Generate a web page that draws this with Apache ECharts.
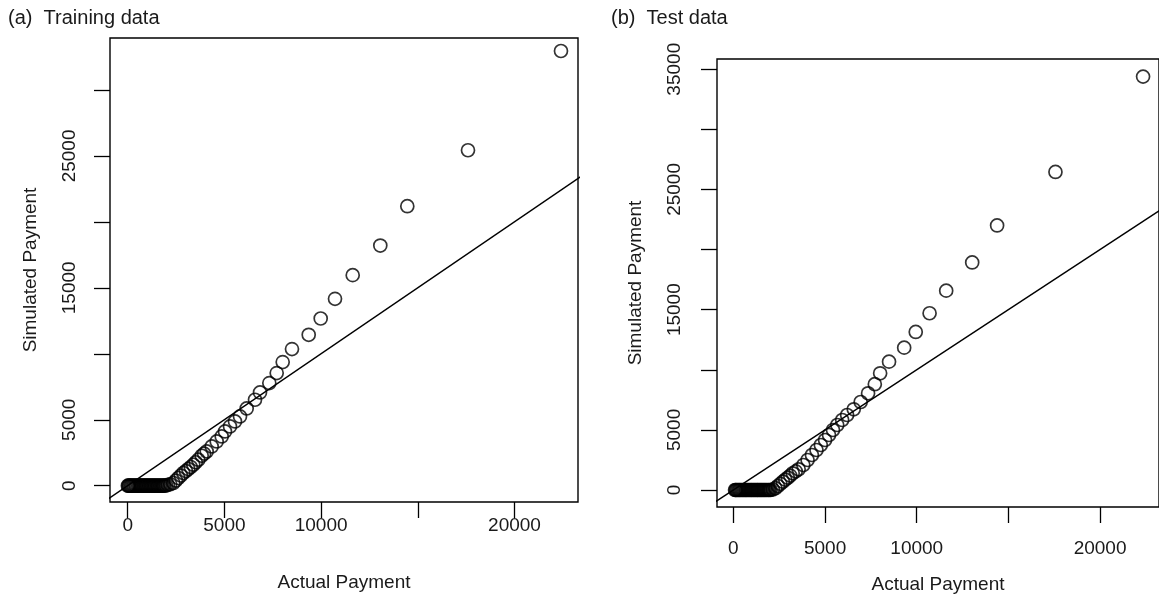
<!DOCTYPE html>
<html>
<head>
<meta charset="utf-8">
<script src="https://cdn.jsdelivr.net/npm/echarts@6/dist/echarts.min.js"></script>
<style>
html,body{margin:0;padding:0;background:#fff;}
#chart{width:1159px;height:601px;}
</style>
</head>
<body>
<div id="chart"></div>
<script>
// ---- Data ----
const panelTitles = ['(a)  Training data', '(b)  Test data'];
const xAxisTitle = 'Actual Payment';
const yAxisTitle = 'Simulated Payment';

// Panel (a): quantiles of actual vs simulated payment (training data)
const trainActual = [10, 45, 90, 150, 205, 270, 330, 395, 450, 520, 580, 640, 705, 760, 830, 890, 950, 1010, 1080, 1140, 1200, 1265, 1330, 1390, 1450, 1520, 1580, 1650, 1710, 1780, 1840, 1900,
  1980, 2080, 2200, 2358, 2490, 2616, 2750, 2875, 3010, 3133, 3260, 3392, 3520, 3651, 3826, 3950, 4085, 4344, 4602, 4861, 5031, 5290, 5548, 5807,
  6153, 6582, 6841, 7322, 7704, 8014, 8495, 9359, 9979, 10719, 11634, 13061, 14457, 17595, 22403];
const trainSimulated = [0, 0, 0, 0, 0, 0, 0, 0, 0, 0, 0, 0, 0, 0, 0, 0, 0, 0, 0, 0, 0, 0, 0, 0, 0, 0, 0, 0, 0, 0, 0, 0,
  20, 60, 110, 205, 390, 583, 770, 962, 1110, 1265, 1420, 1591, 1780, 1970, 2273, 2430, 2598, 2977, 3356, 3735, 4114, 4492, 4871, 5250,
  5856, 6515, 7068, 7780, 8538, 9371, 10356, 11439, 12674, 14167, 15962, 18205, 21189, 25432, 32955];

// Panel (b): test data
const testActual = [90, 130, 180, 240, 300, 350, 410, 470, 530, 590, 650, 700, 760, 820, 880, 940, 990, 1050, 1110, 1170, 1230, 1290, 1340, 1400, 1460, 1520, 1580, 1640, 1700, 1760, 1830, 1900, 1960, 2030,
  2150, 2290, 2427, 2560, 2697, 2830, 2967, 3100, 3236, 3400, 3560, 3814, 4045, 4283, 4531, 4768, 5000, 5216, 5432, 5664, 5933, 6203,
  6564, 6942, 7346, 7713, 8004, 8490, 9315, 9946, 10701, 11607, 13025, 14384, 17567, 22346];
const testSimulated = [0, 0, 0, 0, 0, 0, 0, 0, 0, 0, 0, 0, 0, 0, 0, 0, 0, 0, 0, 0, 0, 0, 0, 0, 0, 0, 0, 0, 0, 0, 0, 0, 0, 0,
  40, 150, 333, 510, 691, 860, 1023, 1200, 1389, 1550, 1722, 2080, 2496, 2912, 3328, 3744, 4160, 4576, 4992, 5408, 5824, 6240,
  6714, 7321, 8045, 8802, 9709, 10674, 11839, 13145, 14700, 16581, 18927, 22005, 26456, 34384];

// Reference line y = x (end points)
const refLine = [-5000, 50000];

// Tick positions and labelled ticks
const xTicks = [0, 5000, 10000, 15000, 20000];
const xLabels = [0, 5000, 10000, 20000];
const yTicksA = [0, 5000, 10000, 15000, 20000, 25000, 30000];
const yLabelsA = [0, 5000, 15000, 25000];
const yTicksB = [0, 5000, 10000, 15000, 20000, 25000, 30000, 35000];
const yLabelsB = [0, 5000, 15000, 25000, 35000];

// ---- Chart ----
const FONT = '"Liberation Sans", Arial, Helvetica, sans-serif';
const TXT = '#1a1a1a';
const TICK = 16;
const chart = echarts.init(document.getElementById('chart'), null, {renderer: 'canvas'});

function xAxisDef(gi, min, max, margin, gap) {
  return {
    type: 'value', gridIndex: gi, min: min, max: max,
    name: xAxisTitle, nameLocation: 'middle', nameGap: gap,
    nameTextStyle: {fontFamily: FONT, fontSize: 19, color: TXT},
    axisLine: {show: false, onZero: false},
    axisTick: {show: true, inside: false, length: TICK, lineStyle: {color: '#000', width: 1.3}, customValues: xTicks},
    axisLabel: {show: true, margin: margin, fontFamily: FONT, fontSize: 19, color: TXT, customValues: xLabels,
                formatter: v => String(v)},
    splitLine: {show: false}
  };
}
function yAxisDef(gi, min, max, ticks, labels, margin, gap) {
  return {
    type: 'value', gridIndex: gi, min: min, max: max,
    name: yAxisTitle, nameLocation: 'middle', nameGap: gap, nameRotate: 90,
    nameTextStyle: {fontFamily: FONT, fontSize: 19, color: TXT},
    axisLine: {show: false, onZero: false},
    axisTick: {show: true, inside: false, length: TICK, lineStyle: {color: '#000', width: 1.3}, customValues: ticks},
    axisLabel: {show: true, rotate: 90, margin: margin, fontFamily: FONT, fontSize: 19, color: TXT, customValues: labels,
                formatter: v => String(v)},
    splitLine: {show: false}
  };
}
function pts(xs, ys) { return xs.map((x, i) => [x, ys[i]]); }

const option = {
  animation: false,
  backgroundColor: '#fff',
  title: [
    {text: panelTitles[0], left: 3, top: 3, textStyle: {fontFamily: FONT, fontSize: 20, fontWeight: 'normal', color: TXT}},
    {text: panelTitles[1], left: 606, top: 3, textStyle: {fontFamily: FONT, fontSize: 20, fontWeight: 'normal', color: TXT}}
  ],
  grid: [
    {left: 110, top: 38, width: 468, height: 464, show: true, borderColor: '#000', borderWidth: 1.4, backgroundColor: 'transparent'},
    {left: 717, top: 59, width: 447, height: 448, show: true, borderColor: '#000', borderWidth: 1.4, backgroundColor: 'transparent'}
  ],
  xAxis: [xAxisDef(0, -915, 23283, 14, 71), xAxisDef(1, -895, 23215, 32, 68)],
  yAxis: [yAxisDef(0, -1235, 33940, yTicksA, yLabelsA, 31, 70), yAxisDef(1, -1414, 35850, yTicksB, yLabelsB, 33, 72)],
  series: [
    {type: 'line', xAxisIndex: 0, yAxisIndex: 0, data: [[refLine[0], refLine[0]], [refLine[1], refLine[1]]],
     showSymbol: false, clip: true, lineStyle: {color: '#000', width: 1.4}, silent: true},
    {type: 'scatter', xAxisIndex: 0, yAxisIndex: 0, data: pts(trainActual, trainSimulated),
     symbol: 'circle', symbolSize: 13, itemStyle: {color: 'rgba(0,0,0,0)', borderColor: '#000', borderWidth: 1.7}},
    {type: 'line', xAxisIndex: 1, yAxisIndex: 1, data: [[refLine[0], refLine[0]], [refLine[1], refLine[1]]],
     showSymbol: false, clip: true, lineStyle: {color: '#000', width: 1.4}, silent: true},
    {type: 'scatter', xAxisIndex: 1, yAxisIndex: 1, data: pts(testActual, testSimulated),
     symbol: 'circle', symbolSize: 13, itemStyle: {color: 'rgba(0,0,0,0)', borderColor: '#000', borderWidth: 1.7}}
  ]
};
chart.setOption(option);
</script>
</body>
</html>
